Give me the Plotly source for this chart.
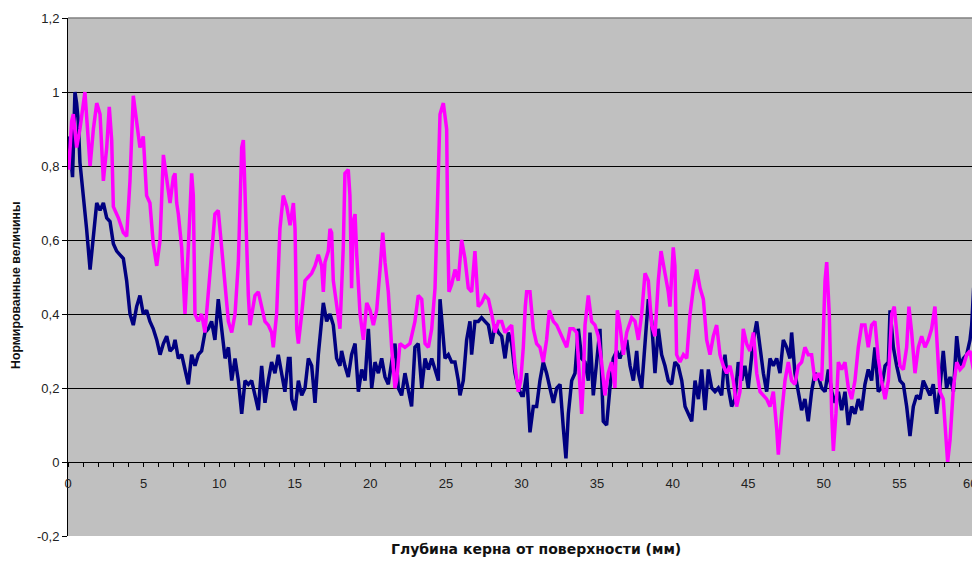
import plotly.graph_objects as go

# Depth (mm) and normalised values, navy series
depth_navy = [0.00, 0.15, 0.30, 0.46, 0.57, 0.68, 0.79, 1.01, 1.23, 1.46, 1.68, 1.90, 2.12, 2.34, 2.56, 2.78, 3.00, 3.22, 3.44, 3.66, 3.88, 4.10, 4.32, 4.54, 4.76, 4.98, 5.20, 5.42, 5.64, 5.87, 6.09, 6.31, 6.53, 6.75, 6.97, 7.08, 7.30, 7.52, 7.74, 7.96, 8.18, 8.40, 8.62, 8.84, 9.06, 9.28, 9.50, 9.72, 9.94, 10.17, 10.39, 10.61, 10.83, 11.05, 11.27, 11.49, 11.71, 11.93, 12.15, 12.37, 12.59, 12.81, 13.03, 13.25, 13.47, 13.69, 13.91, 14.13, 14.35, 14.58, 14.69, 14.80, 15.02, 15.24, 15.46, 15.68, 15.90, 16.12, 16.34, 16.56, 16.78, 16.89, 17.11, 17.33, 17.55, 17.77, 17.99, 18.10, 18.32, 18.54, 18.76, 18.99, 19.21, 19.43, 19.65, 19.87, 20.09, 20.31, 20.53, 20.75, 20.97, 21.19, 21.41, 21.63, 21.85, 22.07, 22.29, 22.51, 22.73, 22.95, 23.17, 23.40, 23.62, 23.84, 24.06, 24.28, 24.50, 24.61, 24.72, 24.94, 25.16, 25.38, 25.60, 25.82, 25.93, 26.15, 26.37, 26.59, 26.70, 26.92, 27.14, 27.36, 27.58, 27.81, 28.03, 28.25, 28.47, 28.69, 28.91, 29.13, 29.35, 29.57, 29.79, 30.01, 30.12, 30.34, 30.56, 30.78, 31.00, 31.22, 31.44, 31.66, 31.88, 32.11, 32.33, 32.55, 32.77, 32.94, 33.10, 33.32, 33.54, 33.76, 33.98, 34.20, 34.42, 34.53, 34.75, 34.97, 35.19, 35.41, 35.63, 35.85, 36.07, 36.30, 36.51, 36.74, 36.96, 37.18, 37.40, 37.62, 37.73, 37.95, 38.17, 38.39, 38.61, 38.83, 39.05, 39.27, 39.49, 39.71, 39.93, 40.15, 40.37, 40.60, 40.82, 41.04, 41.26, 41.48, 41.70, 41.92, 42.14, 42.36, 42.58, 42.80, 43.02, 43.24, 43.46, 43.68, 43.90, 44.12, 44.34, 44.56, 44.78, 45.00, 45.11, 45.34, 45.56, 45.78, 46.00, 46.22, 46.44, 46.66, 46.88, 47.10, 47.32, 47.54, 47.76, 47.87, 48.09, 48.31, 48.53, 48.75, 48.97, 49.19, 49.41, 49.64, 49.86, 50.08, 50.30, 50.52, 50.74, 50.96, 51.18, 51.40, 51.62, 51.84, 52.06, 52.28, 52.50, 52.72, 52.94, 53.16, 53.38, 53.60, 53.82, 54.05, 54.27, 54.38, 54.60, 54.82, 55.04, 55.26, 55.48, 55.70, 55.92, 56.14, 56.36, 56.58, 56.80, 57.02, 57.24, 57.46, 57.68, 57.90, 58.12, 58.35, 58.57, 58.79, 59.01, 59.23, 59.45, 59.67, 59.78, 59.91, 60.00]
navy_vals = [0.88, 0.84, 0.77, 1.00, 0.97, 0.92, 0.81, 0.73, 0.63, 0.52, 0.62, 0.70, 0.68, 0.70, 0.66, 0.65, 0.59, 0.57, 0.56, 0.55, 0.49, 0.40, 0.37, 0.42, 0.45, 0.40, 0.41, 0.38, 0.36, 0.33, 0.29, 0.32, 0.34, 0.30, 0.31, 0.33, 0.28, 0.29, 0.25, 0.21, 0.29, 0.26, 0.29, 0.30, 0.35, 0.36, 0.38, 0.33, 0.44, 0.35, 0.28, 0.31, 0.22, 0.28, 0.22, 0.13, 0.22, 0.21, 0.22, 0.18, 0.14, 0.26, 0.16, 0.22, 0.27, 0.24, 0.29, 0.24, 0.19, 0.28, 0.28, 0.17, 0.14, 0.22, 0.18, 0.20, 0.28, 0.26, 0.16, 0.29, 0.40, 0.43, 0.38, 0.40, 0.37, 0.28, 0.26, 0.30, 0.26, 0.23, 0.29, 0.32, 0.19, 0.25, 0.22, 0.36, 0.20, 0.27, 0.24, 0.28, 0.23, 0.21, 0.27, 0.32, 0.20, 0.18, 0.24, 0.19, 0.15, 0.31, 0.32, 0.20, 0.28, 0.25, 0.28, 0.25, 0.22, 0.44, 0.38, 0.28, 0.29, 0.27, 0.27, 0.22, 0.18, 0.22, 0.33, 0.38, 0.29, 0.38, 0.38, 0.39, 0.38, 0.37, 0.32, 0.37, 0.35, 0.34, 0.28, 0.35, 0.32, 0.24, 0.20, 0.18, 0.18, 0.24, 0.08, 0.15, 0.15, 0.22, 0.27, 0.24, 0.20, 0.16, 0.20, 0.21, 0.09, 0.01, 0.13, 0.22, 0.24, 0.36, 0.28, 0.27, 0.22, 0.35, 0.18, 0.28, 0.36, 0.11, 0.10, 0.20, 0.28, 0.30, 0.28, 0.31, 0.33, 0.26, 0.22, 0.30, 0.24, 0.20, 0.31, 0.44, 0.38, 0.24, 0.36, 0.29, 0.26, 0.22, 0.21, 0.27, 0.26, 0.22, 0.15, 0.13, 0.11, 0.22, 0.17, 0.25, 0.14, 0.25, 0.20, 0.19, 0.20, 0.18, 0.29, 0.20, 0.15, 0.17, 0.27, 0.22, 0.26, 0.20, 0.24, 0.33, 0.38, 0.31, 0.24, 0.19, 0.28, 0.26, 0.28, 0.24, 0.33, 0.31, 0.28, 0.35, 0.24, 0.19, 0.14, 0.17, 0.11, 0.19, 0.24, 0.23, 0.20, 0.19, 0.25, 0.19, 0.16, 0.19, 0.14, 0.19, 0.10, 0.15, 0.13, 0.17, 0.14, 0.21, 0.25, 0.22, 0.31, 0.19, 0.20, 0.26, 0.27, 0.41, 0.31, 0.26, 0.22, 0.21, 0.15, 0.07, 0.15, 0.18, 0.17, 0.22, 0.20, 0.18, 0.21, 0.13, 0.20, 0.30, 0.20, 0.23, 0.19, 0.34, 0.26, 0.28, 0.29, 0.33, 0.37, 0.47, 0.48]

# Depth (mm) and normalised values, magenta series
depth_magenta = [0.00, 0.05, 0.24, 0.35, 0.57, 0.79, 1.12, 1.34, 1.46, 1.68, 1.90, 2.12, 2.34, 2.56, 2.73, 2.89, 3.00, 3.33, 3.66, 3.88, 4.10, 4.32, 4.54, 4.76, 4.98, 5.20, 5.42, 5.64, 5.87, 6.09, 6.31, 6.53, 6.75, 6.97, 7.08, 7.19, 7.30, 7.52, 7.74, 7.96, 8.18, 8.29, 8.40, 8.62, 8.84, 9.06, 9.28, 9.50, 9.72, 9.94, 10.17, 10.39, 10.61, 10.83, 11.05, 11.27, 11.49, 11.60, 11.71, 11.93, 12.04, 12.37, 12.59, 12.81, 13.03, 13.25, 13.47, 13.58, 13.80, 14.02, 14.24, 14.47, 14.69, 14.91, 15.02, 15.13, 15.24, 15.46, 15.68, 15.90, 16.12, 16.34, 16.56, 16.78, 16.89, 17.00, 17.22, 17.33, 17.44, 17.55, 17.77, 17.99, 18.21, 18.32, 18.54, 18.65, 18.76, 18.87, 18.99, 19.10, 19.32, 19.54, 19.76, 19.98, 20.20, 20.42, 20.64, 20.82, 20.97, 21.19, 21.41, 21.63, 21.74, 21.96, 22.29, 22.62, 22.95, 23.17, 23.40, 23.62, 23.84, 24.06, 24.28, 24.39, 24.50, 24.61, 24.83, 25.05, 25.12, 25.20, 25.38, 25.60, 25.82, 26.04, 26.26, 26.48, 26.70, 26.92, 27.14, 27.36, 27.58, 27.81, 28.03, 28.25, 28.47, 28.69, 28.91, 29.13, 29.35, 29.57, 29.79, 29.95, 30.12, 30.25, 30.34, 30.56, 30.78, 31.00, 31.22, 31.44, 31.66, 31.84, 32.11, 32.33, 32.55, 32.77, 32.99, 33.21, 33.43, 33.65, 33.87, 33.98, 34.09, 34.20, 34.42, 34.64, 34.86, 35.08, 35.30, 35.52, 35.74, 35.96, 36.18, 36.34, 36.51, 36.74, 36.96, 37.29, 37.51, 37.73, 37.95, 38.17, 38.39, 38.61, 38.83, 39.05, 39.23, 39.49, 39.71, 39.82, 40.04, 40.15, 40.26, 40.48, 40.71, 40.93, 41.15, 41.37, 41.59, 41.81, 42.03, 42.25, 42.47, 42.69, 42.91, 43.13, 43.35, 43.57, 43.79, 44.01, 44.23, 44.45, 44.67, 44.89, 45.11, 45.34, 45.56, 45.78, 46.00, 46.22, 46.44, 46.66, 46.88, 46.99, 47.21, 47.43, 47.65, 47.87, 48.09, 48.31, 48.53, 48.75, 48.97, 49.19, 49.41, 49.64, 49.86, 50.08, 50.19, 50.36, 50.52, 50.63, 50.80, 50.96, 51.18, 51.40, 51.62, 51.84, 52.06, 52.28, 52.50, 52.72, 52.94, 53.16, 53.38, 53.60, 53.82, 54.05, 54.27, 54.49, 54.66, 54.82, 55.04, 55.26, 55.48, 55.63, 55.81, 56.03, 56.25, 56.47, 56.69, 56.91, 57.13, 57.35, 57.53, 57.68, 57.90, 58.01, 58.19, 58.35, 58.57, 58.79, 59.01, 59.23, 59.45, 59.67, 59.89, 60.00]
magenta_vals = [0.83, 0.79, 0.92, 0.94, 0.85, 0.90, 1.00, 0.85, 0.80, 0.90, 0.97, 0.94, 0.76, 0.85, 0.96, 0.87, 0.69, 0.66, 0.62, 0.61, 0.76, 0.99, 0.92, 0.85, 0.88, 0.72, 0.70, 0.59, 0.53, 0.60, 0.83, 0.76, 0.70, 0.77, 0.78, 0.70, 0.67, 0.58, 0.40, 0.58, 0.78, 0.72, 0.40, 0.38, 0.40, 0.35, 0.46, 0.56, 0.67, 0.68, 0.58, 0.47, 0.38, 0.35, 0.40, 0.54, 0.85, 0.87, 0.72, 0.45, 0.37, 0.45, 0.46, 0.42, 0.38, 0.37, 0.35, 0.31, 0.40, 0.63, 0.72, 0.69, 0.64, 0.70, 0.63, 0.36, 0.32, 0.40, 0.49, 0.50, 0.51, 0.53, 0.56, 0.53, 0.46, 0.54, 0.57, 0.63, 0.62, 0.49, 0.42, 0.36, 0.58, 0.78, 0.79, 0.72, 0.47, 0.65, 0.67, 0.56, 0.40, 0.33, 0.43, 0.41, 0.37, 0.41, 0.52, 0.62, 0.54, 0.46, 0.31, 0.20, 0.22, 0.32, 0.31, 0.32, 0.38, 0.45, 0.44, 0.32, 0.31, 0.36, 0.47, 0.65, 0.81, 0.94, 0.97, 0.90, 0.63, 0.46, 0.48, 0.52, 0.49, 0.60, 0.55, 0.47, 0.46, 0.57, 0.42, 0.43, 0.45, 0.44, 0.40, 0.35, 0.38, 0.38, 0.35, 0.36, 0.37, 0.26, 0.19, 0.22, 0.31, 0.42, 0.46, 0.46, 0.36, 0.32, 0.31, 0.27, 0.33, 0.41, 0.38, 0.37, 0.35, 0.33, 0.31, 0.36, 0.36, 0.35, 0.20, 0.13, 0.22, 0.37, 0.45, 0.38, 0.37, 0.34, 0.27, 0.18, 0.24, 0.27, 0.20, 0.41, 0.37, 0.29, 0.35, 0.39, 0.38, 0.33, 0.40, 0.51, 0.49, 0.37, 0.34, 0.49, 0.57, 0.51, 0.46, 0.42, 0.58, 0.53, 0.29, 0.27, 0.29, 0.28, 0.40, 0.47, 0.52, 0.47, 0.44, 0.33, 0.29, 0.34, 0.37, 0.29, 0.26, 0.24, 0.26, 0.22, 0.15, 0.19, 0.36, 0.32, 0.30, 0.35, 0.24, 0.19, 0.18, 0.17, 0.15, 0.19, 0.09, 0.02, 0.13, 0.22, 0.27, 0.22, 0.21, 0.26, 0.27, 0.31, 0.29, 0.29, 0.22, 0.24, 0.22, 0.49, 0.54, 0.40, 0.13, 0.03, 0.13, 0.27, 0.25, 0.27, 0.20, 0.17, 0.22, 0.31, 0.37, 0.37, 0.31, 0.37, 0.38, 0.28, 0.22, 0.17, 0.22, 0.40, 0.42, 0.36, 0.26, 0.25, 0.31, 0.42, 0.35, 0.24, 0.31, 0.34, 0.31, 0.33, 0.36, 0.42, 0.31, 0.19, 0.17, 0.11, 0.00, 0.06, 0.20, 0.27, 0.25, 0.26, 0.29, 0.30, 0.25, 0.26]

x_ticks = list(range(0, 61))
# the last label (60) sits on the window edge; it is drawn separately, nudged inward
x_tick_text = [str(v) if (v % 5 == 0 and v < 60) else "" for v in x_ticks]
x_last_label = "60"
y_ticks = [-0.2, 0, 0.2, 0.4, 0.6, 0.8, 1.0, 1.2]
y_tick_text = ["-0,2", "0", "0,2", "0,4", "0,6", "0,8", "1", "1,2"]

x_title = "Глубина керна от поверхности (мм)"
y_title = "Нормированные величины"

FONT = "Arial, Liberation Sans, sans-serif"
TICK_FONT = dict(family=FONT, size=13, color="#222222")

fig = go.Figure()
fig.add_trace(go.Scatter(x=depth_navy, y=navy_vals, mode="lines", name="Серия1",
                         line=dict(color="#000080", width=3.5)))
fig.add_trace(go.Scatter(x=depth_magenta, y=magenta_vals, mode="lines", name="Серия2",
                         line=dict(color="#FF00FF", width=3.5)))

# The page body adds an 8 px offset; margins compensate for it.
fig.update_layout(
    width=980, height=560,
    margin=dict(l=60, r=13, t=10, b=32),
    paper_bgcolor="white",
    plot_bgcolor="#C0C0C0",
    showlegend=False,
    font=dict(family=FONT, size=12, color="#222222"),
    xaxis=dict(
        range=[0, 60], tickmode="array", tickvals=x_ticks, ticktext=x_tick_text,
        ticks="outside", ticklen=4, tickcolor="black", tickwidth=1,
        showline=True, linecolor="black", linewidth=1,
        anchor="free", position=1/7,
        showgrid=False, zeroline=False, automargin=False,
        tickfont=TICK_FONT,
        ticklabelstandoff=5,
    ),
    yaxis=dict(
        range=[-0.2, 1.2], tickmode="array", tickvals=y_ticks, ticktext=y_tick_text,
        ticks="outside", ticklen=5, tickcolor="black", tickwidth=1,
        showline=True, linecolor="black", linewidth=1,
        showgrid=True, gridcolor="black", gridwidth=1,
        zeroline=False, automargin=False,
        tickfont=TICK_FONT,
    ),
    shapes=[
        dict(type="line", xref="paper", yref="paper", x0=0, x1=1, y0=1, y1=1,
             line=dict(color="#808080", width=1.5)),
        dict(type="line", xref="paper", yref="paper", x0=1, x1=1, y0=0, y1=1,
             line=dict(color="#808080", width=1.5)),
    ],
    annotations=[
        dict(text=x_last_label, xref="x", yref="paper", x=x_ticks[-1], xshift=-5,
             y=(536 - 483) / 518, xanchor="center", yanchor="middle",
             showarrow=False, font=TICK_FONT),
        dict(text="<b>" + x_title + "</b>", xref="paper", yref="paper",
             x=(536 - 68) / 907, y=-13 / 518, xanchor="center", yanchor="middle",
             showarrow=False, font=dict(family="DejaVu Sans", size=14, color="#111111")),
        dict(text="<b>" + y_title + "</b>", xref="paper", yref="paper",
             x=-52 / 907, y=(536 - 285) / 518, xanchor="center", yanchor="middle",
             textangle=-90,
             showarrow=False, font=dict(family=FONT, size=12.3, color="#111111")),
    ],
)

fig.write_html("out.html")
